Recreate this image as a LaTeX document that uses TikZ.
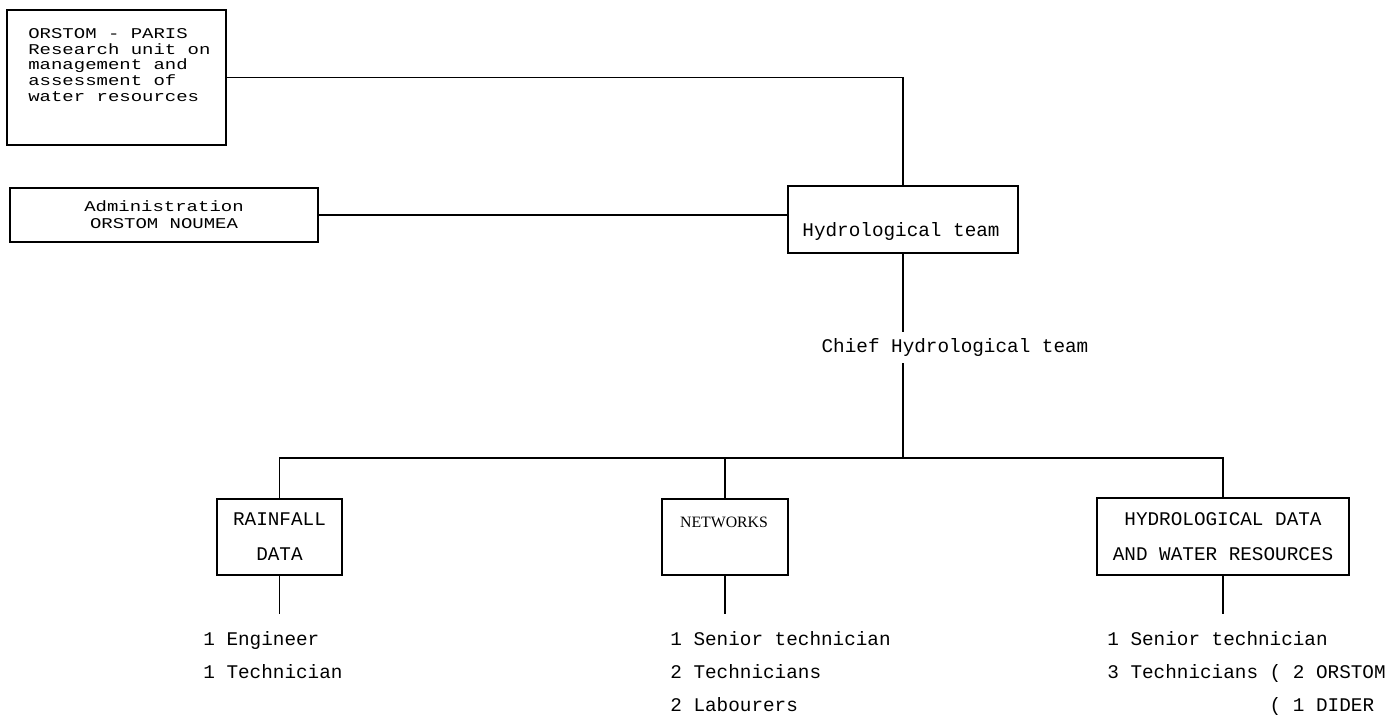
\documentclass[tikz,border=0pt]{standalone}
\usepackage{fontspec}
\setmainfont{Liberation Serif}
\setmonofont{Liberation Mono}
\newfontfamily\boxfont[FakeStretch=1.27]{Liberation Mono}
\usetikzlibrary{positioning}

\tikzset{
  unit/.style={draw, line width=0.8pt, inner sep=0pt, align=center},
  tt/.style={font=\fontsize{11}{#1}\selectfont\ttfamily},
  tt/.default=13pt,
  narrow/.style={font=\fontsize{8.5}{#1}\selectfont\boxfont,
    execute at begin node={\lineskiplimit=-20pt\relax}},
  staff/.style={anchor=north west, inner sep=0pt, align=left, font=\fontsize{11}{18.8}\selectfont\ttfamily},
  link/.style={line width=0.9pt},
}

\begin{document}
\begin{tikzpicture}[x=0.02cm, y=-0.02cm]
  \useasboundingbox (0,0) rectangle (1396,715);

  % upper part
  \node [unit, minimum width=4.38cm, minimum height=2.7cm] (paris) at (116.5,77.5) {};
  \node [narrow=9pt, anchor=north west, inner sep=0pt, align=left] (paristext) at (28,28)
    {ORSTOM - PARIS\\Research unit on\\management and\\assessment of\\water resources};
  \node [unit, narrow=9.6pt, minimum width=6.16cm, minimum height=1.08cm] (admin) at (164,215)
    {Administration\\ORSTOM NOUMEA};
  \node [unit, minimum width=4.6cm, minimum height=1.34cm] (team) at (903,219.5) {};
  \node [tt] (teamtext) at (901,232) {Hydrological team};

  % sections
  \node [unit, tt=19.9pt, minimum width=2.5cm, minimum height=1.52cm] (rain) at (279.5,537) {RAINFALL\\DATA};
  \node [unit, minimum width=2.52cm, minimum height=1.52cm] (net) at (725,537) {};
  \node [font=\fontsize{9}{11}\selectfont, inner sep=0pt] (nettext) at (724,522) {NETWORKS};
  \node [unit, tt=19.9pt, minimum width=5.04cm, minimum height=1.54cm] (hyd) at (1223,536.5)
    {HYDROLOGICAL DATA\\AND WATER RESOURCES};

  \coordinate (split) at (903,458);
  \draw [link] (paris.east) -| (team.north);
  \draw [link] (admin.east) -- (admin.east -| team.west);
  \draw [link] (team.south) -- (split);
  \node [tt, fill=white, minimum height=0.62cm, inner sep=1pt] (chief) at (955,348) {Chief Hydrological team};
  \draw [link] (rain.north) -- (rain.north |- split) -| (hyd.north);
  \draw [link] (net.north) -- (net.north |- split);

  \draw [link] (rain.south) -- ++(0,38);
  \draw [link] (net.south) -- ++(0,38);
  \draw [link] (hyd.south) -- ++(0,38);

  % staff
  \node [staff] (rainstaff) at (203,631) {1 Engineer\\1 Technician};
  \node [staff] (netstaff) at (670,631) {1 Senior technician\\2 Technicians\\2 Labourers};
  \node [staff] (hydstaff) at (1107,631)
    {1 Senior technician\\3 Technicians ( 2 ORSTOM\\\phantom{3 Technicians }( 1 DIDER};
\end{tikzpicture}
\end{document}
